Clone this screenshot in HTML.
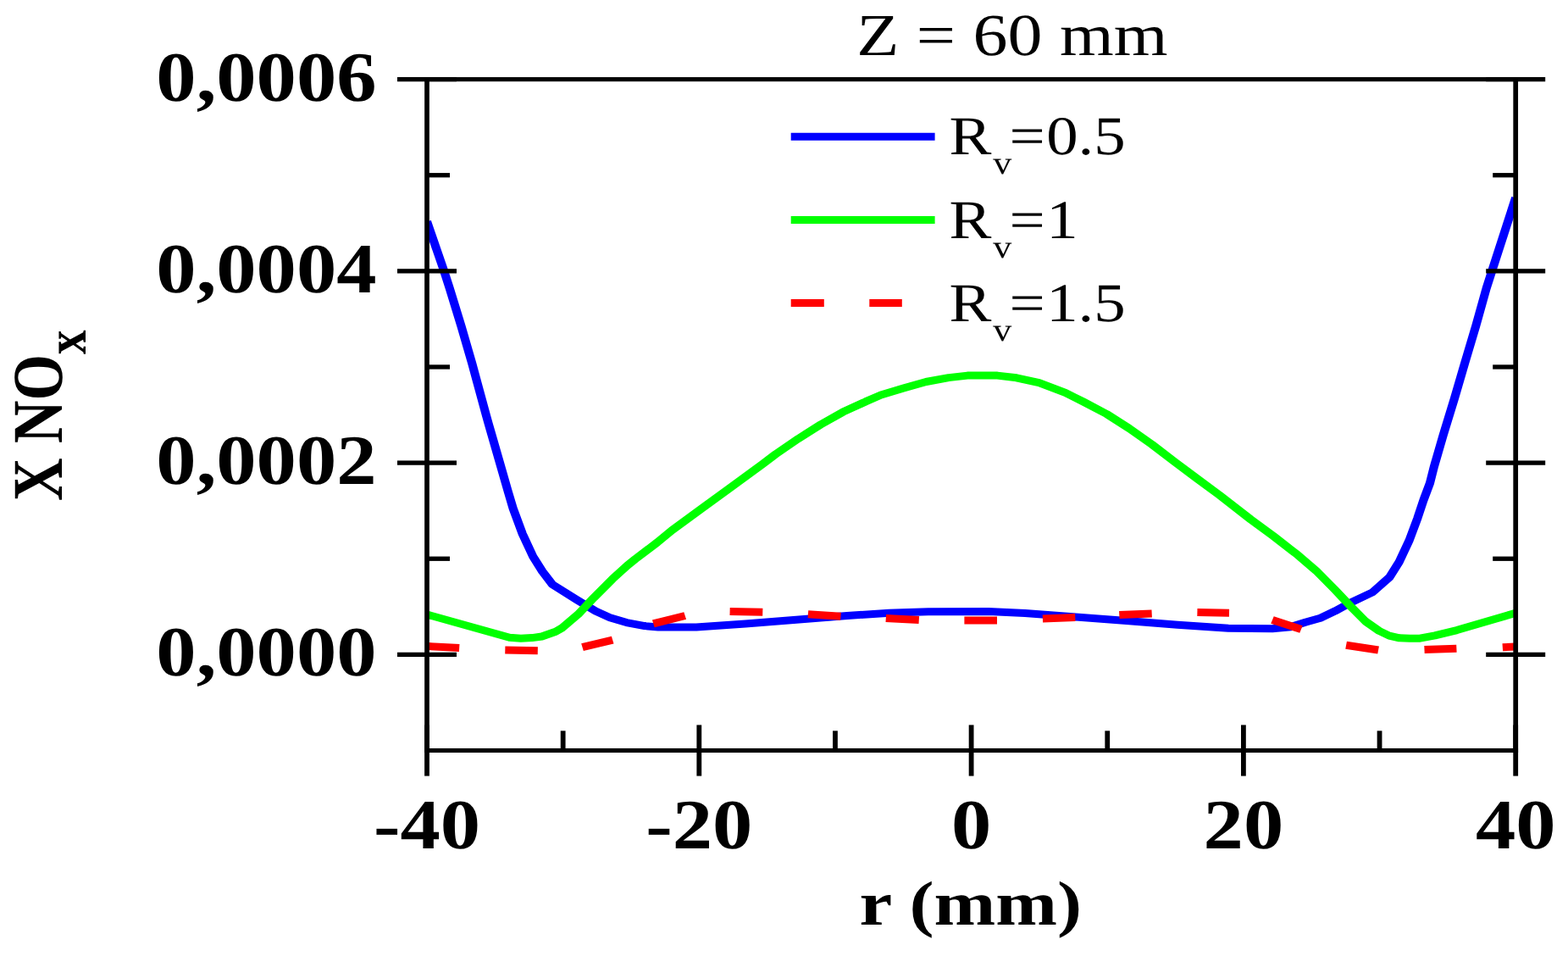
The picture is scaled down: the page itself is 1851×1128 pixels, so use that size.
<!DOCTYPE html>
<html lang="en"><head><meta charset="utf-8"><title>Z = 60 mm</title>
<style>html,body{margin:0;padding:0;background:#fff;overflow:hidden}svg{display:block}text{font-family:"Liberation Serif","DejaVu Serif",serif;fill:#000;white-space:pre;text-rendering:geometricPrecision}.b{font-weight:bold}</style></head><body>
<svg width="1851" height="1128" viewBox="0 0 1851 1128">
<rect width="1851" height="1128" fill="#fff"/>
<defs><clipPath id="c"><rect x="446.809" y="93.60" width="1139.362" height="791.90"/></clipPath></defs>
<g transform="scale(1.128,1)" fill="none" stroke-width="9.0" stroke-linejoin="round" clip-path="url(#c)">
<polyline stroke="#0000ff" points="446.81,261.30 464.18,318.00 470.48,340.00 482.54,384.30 493.97,428.70 499.11,450.00 508.78,490.00 511.26,500.00 522.61,544.30 531.83,580.50 536.97,600.00 546.81,630.00 557.80,656.60 567.64,674.30 578.10,689.60 603.37,707.50 623.23,721.00 638.30,728.70 655.67,734.60 674.65,738.60 688.83,739.90 728.72,739.90 780.14,736.00 833.33,731.20 886.52,726.50 930.67,723.30 971.45,721.70 1034.57,721.60 1072.70,723.50 1125.89,728.00 1179.08,732.40 1232.27,737.20 1285.46,741.30 1331.56,741.70 1350.80,739.70 1366.05,734.30 1381.83,729.20 1397.52,720.80 1413.21,711.20 1436.35,698.90 1454.26,681.00 1464.27,663.00 1474.65,638.10 1483.51,611.30 1489.80,590.00 1496.45,570.00 1500.98,549.80 1510.11,514.30 1522.16,470.00 1532.89,428.70 1544.59,384.30 1555.59,340.00 1561.79,318.30 1586.17,233.30"/>
<polyline stroke="#00ff00" points="446.81,725.00 533.24,752.30 545.04,753.20 556.74,752.60 567.02,751.00 581.56,745.20 588.65,740.60 605.05,724.80 621.28,705.40 640.96,683.20 656.65,667.20 664.89,659.70 687.85,640.00 703.19,625.70 734.66,599.80 766.05,574.10 797.87,547.80 811.61,536.00 835.20,517.80 858.78,501.00 882.27,486.10 905.85,473.90 921.99,466.00 945.57,458.00 969.15,450.50 992.73,445.60 1012.41,443.10 1043.79,443.10 1063.83,445.80 1087.41,451.70 1114.89,463.40 1134.57,474.50 1158.16,488.50 1181.74,505.50 1205.67,524.50 1229.26,544.80 1252.84,564.70 1276.42,584.40 1309.04,613.00 1332.62,632.50 1356.21,653.10 1377.39,673.40 1396.90,695.60 1415.51,717.80 1428.99,733.10 1443.26,744.40 1453.90,750.10 1464.54,752.80 1475.18,753.30 1486.08,753.20 1501.68,749.90 1524.65,743.60 1564.98,730.30 1586.17,723.30"/>
<path stroke="#ff0000" d="M446.81 762.50L480.67 764.40 M528.63 767.10L562.77 767.80 M609.49 763.70L641.13 755.10 M683.78 735.90L716.93 726.50 M763.83 721.40L798.14 722.20 M845.66 724.80L879.88 727.20 M927.13 729.40L961.70 731.40 M1009.22 732.00L1043.44 732.00 M1091.22 730.00L1125.27 728.60 M1171.37 725.60L1205.41 724.00 M1253.01 722.50L1286.35 723.20 M1331.56 731.50L1361.70 742.50 M1408.78 761.30L1442.46 767.00 M1490.69 766.60L1524.29 765.20 M1572.52 763.80L1586.17 763.00"/>
</g>
<g fill="none" stroke-width="9.0">
<path stroke="#0000ff" d="M933.70 161.30H1103.60"/>
<path stroke="#00ff00" d="M933.70 259.40H1103.60"/>
<path stroke="#ff0000" d="M933.70 357.60H972.80 M1026.30 357.60H1064.80"/>
</g>
<g fill="#000">
<rect x="501.15" y="91.05" width="1290.90" height="5.10"/>
<rect x="501.15" y="882.95" width="1290.90" height="5.10"/>
<rect x="501.15" y="91.05" width="5.70" height="797.00"/>
<rect x="1786.35" y="91.05" width="5.70" height="797.00"/>
<rect x="469.00" y="90.95" width="70.00" height="5.30"/>
<rect x="1754.20" y="90.95" width="70.00" height="5.30"/>
<rect x="469.00" y="317.21" width="70.00" height="5.30"/>
<rect x="1754.20" y="317.21" width="70.00" height="5.30"/>
<rect x="469.00" y="543.46" width="70.00" height="5.30"/>
<rect x="1754.20" y="543.46" width="70.00" height="5.30"/>
<rect x="469.00" y="769.72" width="70.00" height="5.30"/>
<rect x="1754.20" y="769.72" width="70.00" height="5.30"/>
<rect x="504.00" y="204.08" width="27.00" height="5.30"/>
<rect x="1762.20" y="204.08" width="27.00" height="5.30"/>
<rect x="504.00" y="430.34" width="27.00" height="5.30"/>
<rect x="1762.20" y="430.34" width="27.00" height="5.30"/>
<rect x="504.00" y="656.59" width="27.00" height="5.30"/>
<rect x="1762.20" y="656.59" width="27.00" height="5.30"/>
<rect x="501.10" y="855.40" width="5.80" height="60.20"/>
<rect x="822.40" y="855.40" width="5.80" height="60.20"/>
<rect x="1143.70" y="855.40" width="5.80" height="60.20"/>
<rect x="1465.00" y="855.40" width="5.80" height="60.20"/>
<rect x="1786.30" y="855.40" width="5.80" height="60.20"/>
<rect x="661.75" y="862.30" width="5.80" height="23.20"/>
<rect x="983.05" y="862.30" width="5.80" height="23.20"/>
<rect x="1304.35" y="862.30" width="5.80" height="23.20"/>
<rect x="1625.65" y="862.30" width="5.80" height="23.20"/>
</g>
<text class="b" transform="translate(444.60,118.60) scale(1.135,1)" font-size="83.4" text-anchor="end">0,0006</text>
<text class="b" transform="translate(444.60,344.86) scale(1.135,1)" font-size="83.4" text-anchor="end">0,0004</text>
<text class="b" transform="translate(444.60,571.11) scale(1.135,1)" font-size="83.4" text-anchor="end">0,0002</text>
<text class="b" transform="translate(444.60,797.37) scale(1.135,1)" font-size="83.4" text-anchor="end">0,0000</text>
<text class="b" transform="translate(504.00,1000.60) scale(1.135,1)" font-size="83.4" text-anchor="middle">-40</text>
<text class="b" transform="translate(825.30,1000.60) scale(1.135,1)" font-size="83.4" text-anchor="middle">-20</text>
<text class="b" transform="translate(1146.60,1000.60) scale(1.135,1)" font-size="83.4" text-anchor="middle">0</text>
<text class="b" transform="translate(1467.90,1000.60) scale(1.135,1)" font-size="83.4" text-anchor="middle">20</text>
<text class="b" transform="translate(1789.20,1000.60) scale(1.135,1)" font-size="83.4" text-anchor="middle">40</text>
<text class="b" transform="translate(1145.80,1090.70) scale(1.18,1)" font-size="74.0" text-anchor="middle">r (mm)</text>
<text transform="translate(1194.90,64.90) scale(1.168,1)" font-size="70.2" text-anchor="middle">Z = 60 mm</text>
<text class="b" transform="translate(73.00,591.00) scale(1.205,1) rotate(-90)" font-size="70" text-anchor="start">X NO<tspan font-size="57" dy="23.2">x</tspan></text>
<text transform="translate(1120.50,182.00) scale(1.158,1)" font-size="64.6" text-anchor="start">R<tspan font-size="38" dx="1.7" dy="23">v</tspan><tspan dx="-2.5" dy="-23">=</tspan><tspan dx="1.3">0.5</tspan></text>
<text transform="translate(1120.50,280.90) scale(1.158,1)" font-size="64.6" text-anchor="start">R<tspan font-size="38" dx="1.7" dy="23">v</tspan><tspan dx="-2.5" dy="-23">=</tspan><tspan dx="1.3">1</tspan></text>
<text transform="translate(1120.50,379.30) scale(1.158,1)" font-size="64.6" text-anchor="start">R<tspan font-size="38" dx="1.7" dy="23">v</tspan><tspan dx="-2.5" dy="-23">=</tspan><tspan dx="1.3">1.5</tspan></text>
</svg></body></html>
